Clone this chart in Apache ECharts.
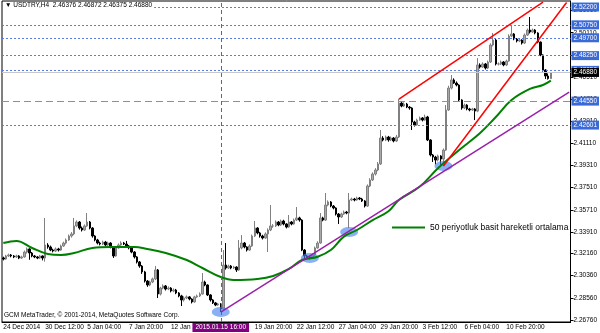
<!DOCTYPE html>
<html><head><meta charset="utf-8">
<script src="https://cdn.jsdelivr.net/npm/echarts@6/dist/echarts.min.js"></script>
<style>html,body{margin:0;padding:0;background:#fff}#c{width:600px;height:333px}</style>
</head><body><div id="c"></div>
<script>
// ---- H4 candle data (USDTRY) ----
const firstOpen = 2.3180;
const closes = [
2.3171,2.3196,2.3204,2.3196,2.3188,2.3196,2.3179,2.3188,2.3228,2.3253,
2.3220,2.3196,2.3188,2.3179,2.3196,2.3179,2.3285,2.3269,2.3244,2.3236,
2.3253,2.3244,2.3277,2.3301,2.3326,2.3358,2.3375,2.3440,2.3472,2.3423,
2.3407,2.3440,2.3472,2.3423,2.3358,2.3326,2.3301,2.3293,2.3309,2.3285,
2.3301,2.3269,2.3196,2.3261,2.3285,2.3301,2.3293,2.3277,2.3261,2.3228,
2.3188,2.3147,2.3114,2.3066,2.2992,2.2960,2.2984,2.3009,2.3082,2.2887,
2.2935,2.2952,2.2927,2.2935,2.2911,2.2919,2.2895,2.2871,2.2838,2.2854,
2.2863,2.2846,2.2822,2.2863,2.2871,2.2887,2.2984,2.2960,2.2879,2.2838,
2.2814,2.2797,2.2806,2.2765,2.3122,2.3098,2.3114,2.3098,2.3106,2.3082,
2.3261,2.3301,2.3269,2.3244,2.3277,2.3358,2.3423,2.3383,2.3358,2.3342,
2.3375,2.3407,2.3440,2.3440,2.3472,2.3448,2.3480,2.3456,2.3431,2.3472,
2.3456,2.3488,2.3505,2.3488,2.3244,2.3196,2.3188,2.3179,2.3204,2.3261,
2.3301,2.3505,2.3488,2.3610,2.3635,2.3602,2.3586,2.3537,2.3513,2.3537,
2.3553,2.3545,2.3651,2.3659,2.3651,2.3667,2.3659,2.3643,2.3602,2.3765,
2.3814,2.3862,2.3895,2.3944,2.4155,2.4139,2.4163,2.4139,2.4155,2.4131,
2.4163,2.4439,2.4415,2.4431,2.4407,2.4399,2.4285,2.4261,2.4301,2.4318,
2.4301,2.4326,2.4139,2.4017,2.4000,2.3976,2.4009,2.3984,2.4057,2.4383,
2.4561,2.4627,2.4602,2.4586,2.4464,2.4399,2.4423,2.4391,2.4383,2.4391,
2.4374,2.4749,2.4732,2.4757,2.4724,2.4773,2.4911,2.4952,2.4757,2.4757,
2.4773,2.4749,2.4781,2.4984,2.5001,2.4960,2.4944,2.4952,2.4927,2.4992,
2.5033,2.5017,2.5033,2.5009,2.4935,2.4830,2.4708,2.4659,2.4638,2.4688
];
const highs = [
2.3190,2.3205,2.3215,2.3212,2.3204,2.3206,2.3203,2.3198,2.3240,2.3265,
2.3258,2.3228,2.3204,2.3196,2.3205,2.3200,2.3505,2.3300,2.3280,2.3255,
2.3265,2.3262,2.3288,2.3312,2.3338,2.3370,2.3390,2.3505,2.3485,2.3480,
2.3435,2.3452,2.3545,2.3480,2.3430,2.3365,2.3335,2.3312,2.3320,2.3318,
2.3312,2.3308,2.3275,2.3272,2.3298,2.3315,2.3310,2.3318,2.3285,2.3268,
2.3235,2.3195,2.3155,2.3122,2.3075,2.3000,2.2995,2.3020,2.3114,2.3090,
2.2945,2.2965,2.2960,2.2948,2.2942,2.2932,2.2928,2.2902,2.2880,2.2868,
2.2875,2.2870,2.2852,2.2872,2.2882,2.2900,2.3057,2.2995,2.2965,2.2885,
2.2845,2.2822,2.2815,2.2812,2.3244,2.3301,2.3125,2.3122,2.3115,2.3112,
2.3326,2.3366,2.3310,2.3275,2.3290,2.3370,2.3480,2.3430,2.3392,2.3368,
2.3388,2.3420,2.3610,2.3455,2.3485,2.3480,2.3492,2.3490,2.3462,2.3529,
2.3480,2.3500,2.3594,2.3515,2.3495,2.3252,2.3205,2.3196,2.3215,2.3272,
2.3315,2.3545,2.3515,2.3708,2.3648,2.3642,2.3610,2.3592,2.3545,2.3548,
2.3565,2.3562,2.3708,2.3670,2.3668,2.3678,2.3675,2.3668,2.3650,2.3778,
2.3828,2.3875,2.3910,2.3960,2.4220,2.4170,2.4175,2.4172,2.4168,2.4162,
2.4180,2.4472,2.4450,2.4445,2.4440,2.4415,2.4405,2.4295,2.4312,2.4330,
2.4325,2.4345,2.4335,2.4145,2.4025,2.4010,2.4020,2.4015,2.4070,2.4423,
2.4580,2.4667,2.4640,2.4615,2.4592,2.4470,2.4435,2.4430,2.4400,2.4400,
2.4398,2.4805,2.4762,2.4770,2.4765,2.4785,2.4925,2.5009,2.4960,2.4770,
2.4785,2.4780,2.4792,2.4998,2.5074,2.5008,2.4968,2.4962,2.4958,2.5005,
2.5045,2.5139,2.5045,2.5040,2.5015,2.4940,2.4835,2.4715,2.4680,2.4690
];
const lows = [
2.3160,2.3165,2.3188,2.3185,2.3178,2.3180,2.3170,2.3172,2.3182,2.3215,
2.3165,2.3185,2.3178,2.3170,2.3172,2.3160,2.3150,2.3255,2.3235,2.3225,
2.3228,2.3232,2.3238,2.3270,2.3290,2.3318,2.3345,2.3365,2.3430,2.3410,
2.3395,2.3400,2.3432,2.3412,2.3345,2.3315,2.3290,2.3282,2.3285,2.3275,
2.3278,2.3258,2.3180,2.3190,2.3255,2.3278,2.3285,2.3268,2.3250,2.3218,
2.3175,2.3135,2.3100,2.3050,2.2980,2.2945,2.2950,2.2975,2.3000,2.2854,
2.2875,2.2925,2.2915,2.2918,2.2900,2.2902,2.2885,2.2860,2.2789,2.2825,
2.2845,2.2835,2.2810,2.2815,2.2855,2.2862,2.2880,2.2950,2.2870,2.2825,
2.2805,2.2788,2.2790,2.2740,2.2750,2.3085,2.3090,2.3088,2.3090,2.3066,
2.3075,2.3250,2.3258,2.3232,2.3238,2.3270,2.3350,2.3372,2.3345,2.3330,
2.3335,2.3228,2.3398,2.3425,2.3432,2.3438,2.3440,2.3445,2.3420,2.3425,
2.3445,2.3450,2.3480,2.3475,2.3235,2.3163,2.3175,2.3168,2.3172,2.3198,
2.3255,2.3295,2.3478,2.3480,2.3600,2.3592,2.3575,2.3525,2.3456,2.3505,
2.3530,2.3535,2.3423,2.3642,2.3640,2.3645,2.3650,2.3635,2.3590,2.3595,
2.3755,2.3805,2.3850,2.3885,2.3936,2.4128,2.4130,2.4125,2.4130,2.4120,
2.4122,2.4155,2.4405,2.4408,2.4398,2.4385,2.4220,2.4248,2.4255,2.4295,
2.4290,2.4295,2.4130,2.4005,2.3960,2.3940,2.3965,2.3936,2.3928,2.4050,
2.4375,2.4550,2.4595,2.4575,2.4455,2.4385,2.4390,2.4380,2.4372,2.4375,
2.4301,2.4365,2.4720,2.4725,2.4712,2.4715,2.4765,2.4900,2.4745,2.4745,
2.4748,2.4738,2.4740,2.4775,2.4975,2.4950,2.4932,2.4935,2.4915,2.4920,
2.4985,2.5005,2.5010,2.4998,2.4925,2.4820,2.4695,2.4635,2.4630,2.4637
];
// 50-period SMA, read at selected bars
const maIdx = [0,5,11,17,22,27,34,41,50,55,62,70,76,83,88,97,103,109,114,120,125,130,135,141,147,151,159,166,174,182,188,194,201,206,209];
const maVal = [2.3301,2.3318,2.3261,2.3212,2.3204,2.3220,2.3261,2.3269,2.3269,2.3253,2.3220,2.3163,2.3098,2.3025,2.3001,2.3009,2.3033,2.3090,2.3163,2.3190,2.3244,2.3353,2.3407,2.3488,2.3560,2.3651,2.3760,2.3911,2.4057,2.4196,2.4326,2.4464,2.4554,2.4586,2.4621];
// time axis labels (bar index -> text)
const labelIdx = [0,16,32,48,64,96,112,128,144,160,176,192];
const labelText = ["24 Dec 2014","30 Dec 12:00","5 Jan 04:00","7 Jan 20:00","12 Jan 12:00","19 Jan 20:00","22 Jan 12:00","27 Jan 04:00","29 Jan 20:00","3 Feb 12:00","6 Feb 04:00","10 Feb 20:00"];
const slotCount = 217; // bars + right shift
// price scale labels
const priceTicks = [2.2676,2.2856,2.3036,2.3216,2.3391,2.3571,2.3751,2.3931,2.4111,2.4291,2.4471,2.4651,2.4831,2.5011,2.5191];
// horizontal levels
const dottedLevels = [2.52200,2.50750,2.49700,2.48250,2.47050,2.42601];
const dashedLevel = 2.44550;
const bidLevel = 2.46880;
// vertical marker
const markBar = 83;
const markText = "2015.01.15 16:00";
// touch points (ellipses)
const touchIdx = [83,117,132,168];
const touchVal = [2.2740,2.3179,2.3391,2.3928];
// trend lines
const purpleLine = [[83,2.2740],[216,2.4529]];
const redUpper = [[151,2.4472],[206,2.5260]];
const redLower = [[168,2.3928],[215,2.5257]];
const maName = "50 periyotluk basit hareketli ortalama";
const header = "\u25BC USDTRY,H4  2.46376 2.46872 2.46375 2.46880";
const copyright = "GCM MetaTrader, \u00A9 2001-2014, MetaQuotes Software Corp.";

const FF = "'Liberation Sans', 'DejaVu Sans', sans-serif";
const cats = [];
for (let i = 0; i < slotCount; i++) cats.push(String(i));
const candles = closes.map((c, i) => [i === 0 ? firstOpen : closes[i - 1], c, lows[i], highs[i]]);
const maData = maIdx.map((x, i) => [x, maVal[i]]);
const touchData = touchIdx.map((x, i) => [x, touchVal[i]]);

const lvlLabel = (bg, v) => ({show: true, position: 'end', distance: 1, formatter: v.toFixed(5),
  backgroundColor: bg, color: '#fff', padding: [1, 2, 1, 2], fontSize: 6.5, fontFamily: FF});
const markData = [];
dottedLevels.forEach(v => markData.push({yAxis: v, lineStyle: {type: [2, 2], color: '#5a7ee0', width: 1}, label: lvlLabel('#3a6ad8', v)}));
markData.push({yAxis: dashedLevel, lineStyle: {type: [7, 4], color: '#7b8fd0', width: 1}, label: lvlLabel('#3a6ad8', dashedLevel)});
markData.push({yAxis: bidLevel, lineStyle: {type: 'solid', color: '#c8c8c8', width: 1}, label: lvlLabel('#000', bidLevel)});
markData.push({xAxis: markBar, lineStyle: {type: [4, 3], color: '#a040a0', width: 1},
  label: {show: true, position: 'start', distance: 1, formatter: markText, backgroundColor: '#800080', color: '#fff', padding: [1, 3, 1, 3], fontSize: 6.5, fontFamily: FF}});

const chart = echarts.init(document.getElementById('c'));
chart.setOption({
  animation: false,
  backgroundColor: '#fff',
  title: [
    {text: header, left: 3, top: 2, padding: [0, 2], backgroundColor: '#fff', textStyle: {fontSize: 6.5, fontWeight: 'normal', color: '#000', fontFamily: FF}},
    {text: copyright, left: 4, top: 312, padding: 0, textStyle: {fontSize: 6.5, fontWeight: 'normal', color: '#000', fontFamily: FF}}
  ],
  legend: {data: [{name: maName, icon: 'rect'}], left: 387, top: 218, itemWidth: 33, itemHeight: 2, selectedMode: false,
    textStyle: {fontSize: 8.5, color: '#000', fontFamily: FF}},
  grid: {left: 2, right: 29, top: 1, bottom: 11, show: true, borderColor: '#000', borderWidth: 1},
  xAxis: {type: 'category', data: cats, boundaryGap: true,
    axisLine: {lineStyle: {color: '#000'}},
    axisTick: {interval: i => labelIdx.includes(i), alignWithLabel: true, length: 3, lineStyle: {color: '#000'}},
    axisLabel: {interval: i => labelIdx.includes(i), formatter: (v, i) => labelText[labelIdx.indexOf(i)], align: 'left', margin: 2, fontSize: 6.5, color: '#000', fontFamily: FF},
    splitLine: {show: false}},
  yAxis: {type: 'value', position: 'right', min: 2.2659, max: 2.5269, scale: true,
    axisLine: {show: true, lineStyle: {color: '#000'}},
    axisTick: {show: true, customValues: priceTicks, length: 3, lineStyle: {color: '#000'}},
    axisLabel: {customValues: priceTicks, formatter: v => v.toFixed(5), fontSize: 6.5, margin: 3, color: '#000', fontFamily: FF},
    splitLine: {show: false}},
  series: [
    {type: 'candlestick', data: candles, barWidth: 2, z: 2,
      itemStyle: {color: '#a8a8a8', borderColor: '#808080', color0: '#000', borderColor0: '#000', borderWidth: 1},
      markLine: {symbol: 'none', silent: true, animation: false, precision: 5, data: markData}},
    {type: 'scatter', data: touchData, symbol: 'circle', symbolSize: [18, 10], z: 3,
      itemStyle: {color: 'rgba(70,130,240,0.8)'}},
    {name: maName, type: 'line', data: maData, smooth: 0.4, showSymbol: false, z: 4,
      lineStyle: {color: '#008000', width: 2}, itemStyle: {color: '#008000'}},
    {type: 'line', data: purpleLine, showSymbol: false, z: 5, lineStyle: {color: '#9a1fa8', width: 1.5}},
    {type: 'line', data: redUpper, showSymbol: false, z: 5, lineStyle: {color: '#ff0000', width: 1.5}},
    {type: 'line', data: redLower, showSymbol: false, z: 5, lineStyle: {color: '#ff0000', width: 1.5}}
  ]
});
</script></body></html>
